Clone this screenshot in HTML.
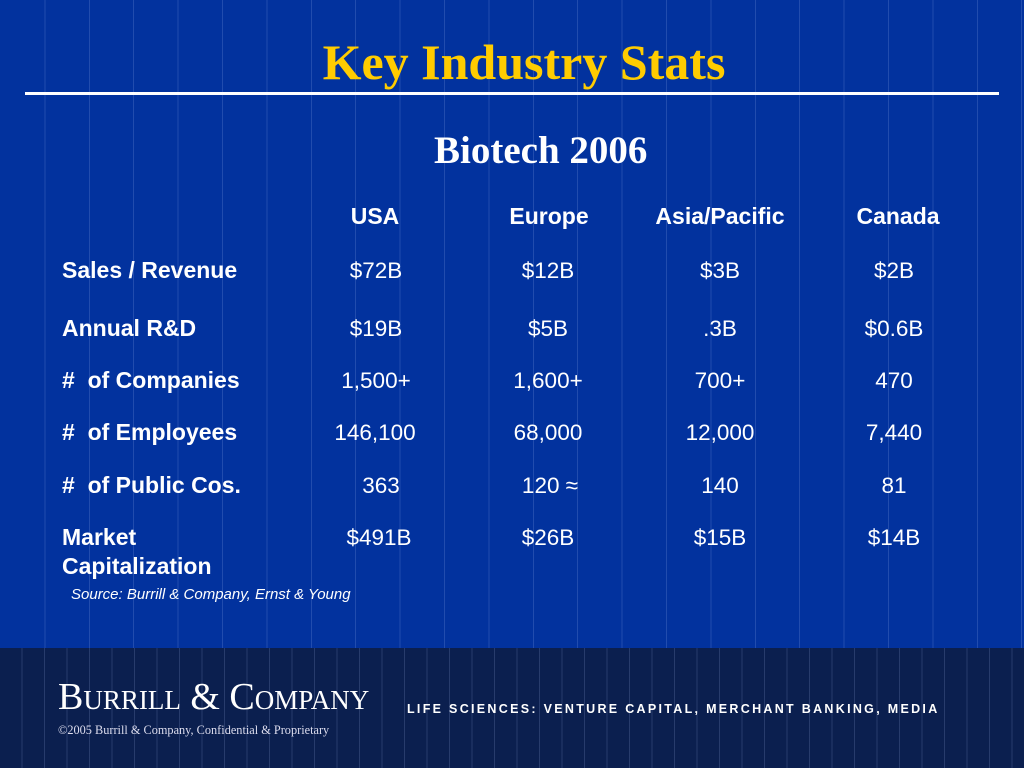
<!DOCTYPE html>
<html><head><meta charset="utf-8"><style>
body{margin:0;width:1024px;height:768px;overflow:hidden;position:relative;font-family:"Liberation Sans",Arial,sans-serif;
background:#0233a0;}
#bg{position:absolute;left:0;top:0;width:1024px;height:648px;background-color:#02329e;
background-image:repeating-linear-gradient(90deg,transparent 0,transparent 43.4px,rgba(140,170,230,0.22) 43.4px,rgba(140,170,230,0.22) 44.4px);background-position:1px 0;}
#foot{position:absolute;left:0;top:648px;width:1024px;height:120px;background-color:#0b1f4f;
background-image:repeating-linear-gradient(90deg,transparent 0,transparent 21.5px,rgba(140,160,210,0.22) 21.5px,rgba(140,160,210,0.22) 22.5px);}
.t{position:absolute;white-space:nowrap;color:#fff;}
.lab{font-weight:bold;font-size:23px;left:62px;}
.v{font-size:22.5px;transform:translateX(-50%);}
.h{font-size:23px;font-weight:bold;transform:translateX(-50%);}
</style></head><body>
<div id="bg"></div>
<div id="foot"></div>
<div class="t" style="left:0;width:1048px;text-align:center;top:33px;font-family:'Liberation Serif',serif;font-weight:bold;font-size:50px;color:#ffcc00;">Key Industry Stats</div>
<div style="position:absolute;left:25px;top:92px;width:974px;height:3px;background:#fff;"></div>
<div class="t" style="left:434px;top:128px;font-family:'Liberation Serif',serif;font-weight:bold;font-size:39px;">Biotech 2006</div>

<div class="t h" style="left:375px;top:203px">USA</div>
<div class="t h" style="left:549px;top:203px">Europe</div>
<div class="t h" style="left:720px;top:203px">Asia/Pacific</div>
<div class="t h" style="left:898px;top:203px">Canada</div>

<div class="t lab" style="top:257px">Sales / Revenue</div>
<div class="t v" style="left:376px;top:258px">$72B</div>
<div class="t v" style="left:548px;top:258px">$12B</div>
<div class="t v" style="left:720px;top:258px">$3B</div>
<div class="t v" style="left:894px;top:258px">$2B</div>

<div class="t lab" style="top:315px">Annual R&amp;D</div>
<div class="t v" style="left:376px;top:316px">$19B</div>
<div class="t v" style="left:548px;top:316px">$5B</div>
<div class="t v" style="left:720px;top:316px">.3B</div>
<div class="t v" style="left:894px;top:316px">$0.6B</div>

<div class="t lab" style="top:367px">#&nbsp; of Companies</div>
<div class="t v" style="left:376px;top:368px">1,500+</div>
<div class="t v" style="left:548px;top:368px">1,600+</div>
<div class="t v" style="left:720px;top:368px">700+</div>
<div class="t v" style="left:894px;top:368px">470</div>

<div class="t lab" style="top:419px">#&nbsp; of Employees</div>
<div class="t v" style="left:375px;top:420px">146,100</div>
<div class="t v" style="left:548px;top:420px">68,000</div>
<div class="t v" style="left:720px;top:420px">12,000</div>
<div class="t v" style="left:894px;top:420px">7,440</div>

<div class="t lab" style="top:472px">#&nbsp; of Public Cos.</div>
<div class="t v" style="left:381px;top:473px">363</div>
<div class="t v" style="left:550px;top:473px">120 ≈</div>
<div class="t v" style="left:720px;top:473px">140</div>
<div class="t v" style="left:894px;top:473px">81</div>

<div class="t lab" style="top:523px;line-height:29px">Market<br>Capitalization</div>
<div class="t v" style="left:379px;top:525px">$491B</div>
<div class="t v" style="left:548px;top:525px">$26B</div>
<div class="t v" style="left:720px;top:525px">$15B</div>
<div class="t v" style="left:894px;top:525px">$14B</div>

<div class="t" style="left:71px;top:586px;font-size:15px;font-style:italic;">Source: Burrill &amp; Company, Ernst &amp; Young</div>

<div class="t" style="left:58px;top:675px;font-family:'Liberation Serif',serif;font-size:38px;font-variant:small-caps;">Burrill &amp; Company</div>
<div class="t" style="left:58px;top:723px;font-family:'Liberation Serif',serif;font-size:12.3px;color:#dde;">©2005 Burrill &amp; Company, Confidential &amp; Proprietary</div>
<div class="t" style="left:407px;top:702px;font-size:12.5px;font-weight:bold;letter-spacing:2.3px;">LIFE SCIENCES: VENTURE CAPITAL, MERCHANT BANKING, MEDIA</div>
</body></html>
